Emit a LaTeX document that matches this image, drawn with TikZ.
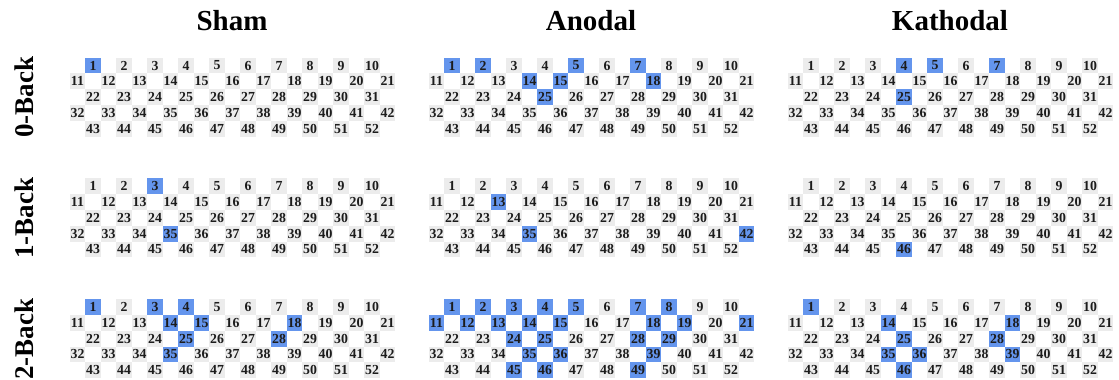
\documentclass[tikz,border=0pt]{standalone}
\usepackage{fontspec}
\setmainfont{Liberation Serif}
\definecolor{cellgray}{HTML}{ECECEC}
\definecolor{cellblue}{HTML}{6495ED}
\definecolor{numtext}{HTML}{1C1C1C}
\makeatletter
\newcommand\cellfill[2]{%
  \edef\cf@tmp{\noexpand\in@{,#1,}{,#2,}}\cf@tmp
  \ifin@\def\cfill{cellblue}\else\def\cfill{cellgray}\fi}
\makeatother
\newcommand\drawpanel[4]{%
  \foreach \r/\s/\c/\o in {0/1/10/0, 1/11/11/-15.5, 2/22/10/0, 3/32/11/-15.5, 4/43/10/0} {
    \foreach \k in {1,...,\c} {
      \pgfmathtruncatemacro\n{\s+\k-1}
      \cellfill{\n}{#4}
      \node[cell, fill=\cfill] (#1-\n) at ({#2+\o+(\k-1)*31}, {#3+\r*15.8}) {\n};
    }
  }%
}
\begin{document}
\begin{tikzpicture}[x=1pt,y=-1pt,
  cell/.style={minimum width=15.5pt, minimum height=15.8pt, inner sep=0pt,
    text=numtext, font=\fontsize{13.8}{13.8}\selectfont\bfseries},
  head/.style={anchor=base, font=\fontsize{29}{29}\selectfont\bfseries},
  rowlab/.style={anchor=base, rotate=90, font=\fontsize{27}{27}\selectfont\bfseries}]
\useasboundingbox (0,0) rectangle (1119,380);
% headers
\node[head] (hsham) at (232,30) {Sham};
\node[head] (hanod) at (591,30) {Anodal};
\node[head] (hkath) at (950,30) {Kathodal};
% row labels
\node[rowlab] (r0) at (33,97) {0-Back};
\node[rowlab] (r1) at (33,218) {1-Back};
\node[rowlab] (r2) at (33,339) {2-Back};
% panels
\drawpanel{s0}{93}{65.5}{1}
\drawpanel{a0}{452}{65.5}{1,2,5,7,14,15,18,25}
\drawpanel{k0}{811}{65.5}{4,5,7,25}
\drawpanel{s1}{93}{186.25}{3,35}
\drawpanel{a1}{452}{186.25}{13,35,42}
\drawpanel{k1}{811}{186.25}{46}
\drawpanel{s2}{93}{307}{1,3,4,14,15,18,25,28,35}
\drawpanel{a2}{452}{307}{1,2,3,4,5,7,8,11,12,13,14,15,18,19,21,24,25,28,29,35,36,39,45,46,49}
\drawpanel{k2}{811}{307}{1,14,18,25,28,35,36,39,46}
\end{tikzpicture}
\end{document}
